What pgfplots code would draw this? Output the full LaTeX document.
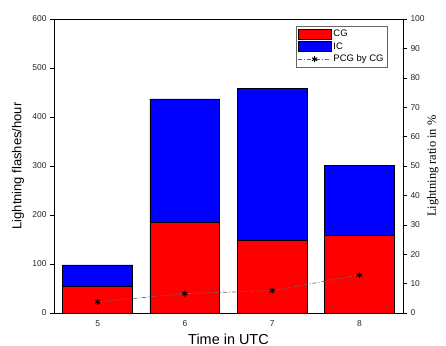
\documentclass[border=0pt]{standalone}
\usepackage{pgfplots}
\pgfplotsset{compat=1.18}
\usepackage{fontspec}
\setmainfont{Liberation Sans}
\newfontfamily\seriffont{Liberation Serif}
\begin{document}
\begin{tikzpicture}
\pgfplotsset{
  common/.style={
    scale only axis, width=349bp, height=294bp,
    xmin=4.5, xmax=8.5,
    /pgf/number format/assume math mode=true,
    tick label style={font=\fontsize{8.5}{9}\selectfont, color=black!85},
    tick align=outside, tick style={black, line width=0.5pt},
    major tick length=4bp,
    axis line style={black, line width=0.6pt},
  }
}
\begin{axis}[common,
  ybar stacked, bar width=0.8,
  ymin=0, ymax=600, ytick={0,100,...,600},
  xtick={5,6,7,8}, xtick style={draw=none},
  axis y line*=left, axis x line*=box,
  ylabel={Lightning flashes/hour},
  ylabel style={font=\fontsize{13}{14}\selectfont, at={([xshift=-36bp]axis description cs:0,0.5)}, anchor=center},
  xlabel={Time in UTC},
  xlabel style={font=\fontsize{14.5}{15}\selectfont, at={([yshift=-26bp]axis description cs:0.5,0)}, anchor=center},
]
\addplot[fill=red, draw=black, line width=0.6pt] coordinates {(5,55) (6,185) (7,148) (8,158)};
\addplot[fill=blue, draw=black, line width=0.6pt] coordinates {(5,43) (6,252) (7,310) (8,144)};
\end{axis}
\begin{axis}[common,
  ymin=0, ymax=100, ytick={0,10,...,100},
  axis y line*=right, axis x line=none,
  ylabel={\seriffont Lightning ratio in \%},
  ylabel style={font=\fontsize{12.5}{13}\selectfont, at={([xshift=30bp]axis description cs:1,0.5)}, anchor=center},
  legend style={at={(0.954,0.975)}, anchor=north east, font=\fontsize{9.5}{10}\selectfont,
    draw=black!60, row sep=0.5pt, inner sep=1.5pt, outer sep=0pt, cells={anchor=west},
    /tikz/every even column/.append style={column sep=1pt}},
  legend cell align=left,
]
\addlegendimage{legend image code/.code={\draw[fill=red, draw=black] (0bp,-5bp) rectangle (33bp,5bp);}}
\addlegendentry{CG}
\addlegendimage{legend image code/.code={\draw[fill=blue, draw=black] (0bp,-5bp) rectangle (33bp,5bp);}}
\addlegendentry{IC}
\addplot[black!60, dash pattern=on 4bp off 2bp on 1bp off 2bp, line width=0.7pt, mark=asterisk, mark size=3pt,
  mark options={solid, black, line width=1pt},
  legend image code/.code={\draw[black!60, dash pattern=on 4bp off 2bp on 1bp off 2bp, line width=0.7pt] (0bp,0bp) -- (33bp,0bp);
    \draw[solid, black, line width=1pt] plot[mark=asterisk, mark size=3pt] coordinates {(16.5bp,0bp)};}]
  coordinates {(5,3.8) (6,6.6) (7,7.6) (8,12.9)};
\addlegendentry{PCG by CG}
\end{axis}
\pgfresetboundingbox
\path (-54bp,-33bp) rectangle (392bp,313bp);
\end{tikzpicture}
\end{document}
